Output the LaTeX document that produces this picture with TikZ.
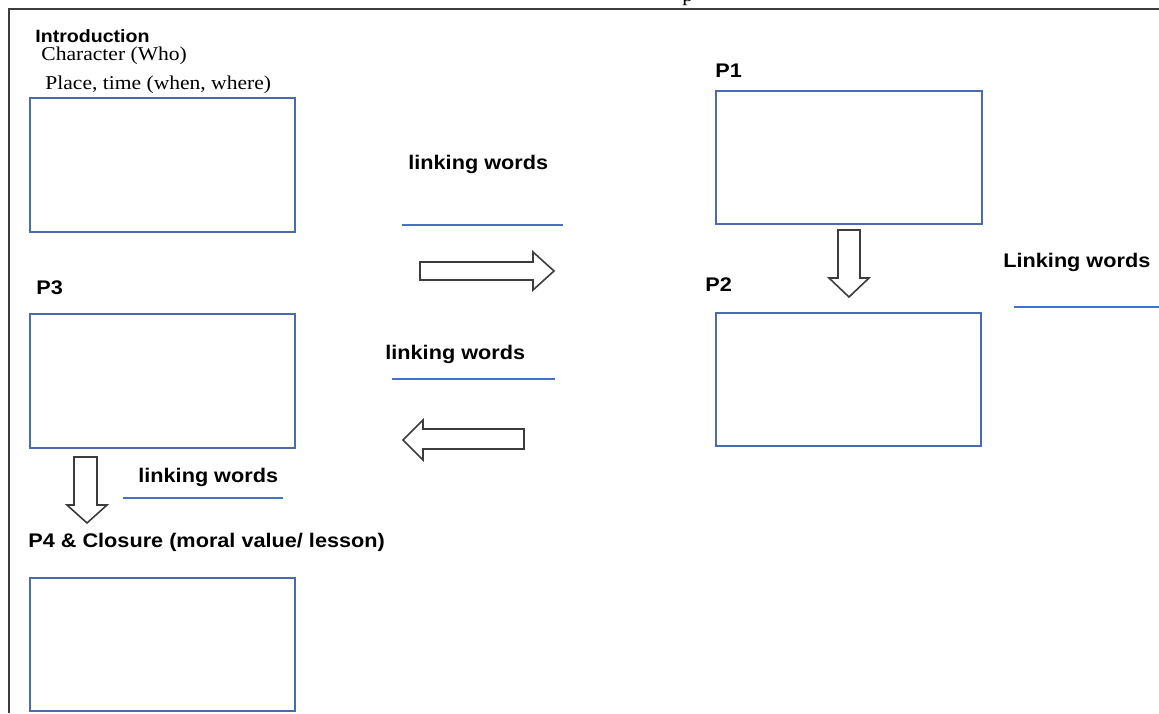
\documentclass[tikz,border=0pt]{standalone}
\usepackage{fontspec}
\newfontfamily\sansf[FakeStretch=1.1]{Liberation Sans}
\newfontfamily\seriff[FakeStretch=1.1]{Liberation Serif}
\definecolor{boxblue}{RGB}{74,108,172}
\definecolor{lineblue}{RGB}{68,114,196}
\definecolor{framegray}{RGB}{60,60,60}
\tikzset{
  lbl/.style={anchor=base west, inner sep=0pt, font=\sansf\bfseries\fontsize{9.85pt}{12pt}\selectfont},
  sub/.style={anchor=base west, inner sep=0pt, font=\seriff\fontsize{9.8pt}{12pt}\selectfont},
  box/.style={draw=boxblue, line width=1pt, anchor=north west, inner sep=0pt, outer sep=0pt, minimum width=132.5pt, minimum height=67pt},
  uline/.style={draw=lineblue, line width=0.8pt},
  barrow/.style={draw=framegray, line width=0.8pt, fill=white, line join=miter},
}
\begin{document}
\begin{tikzpicture}[x=0.5pt,y=-0.5pt]
\useasboundingbox (0,0) rectangle (1159,713);
% frame
\coordinate (ftl) at (9,9);
\coordinate (ftr) at (1159,9);
\coordinate (fbl) at (9,713);
\draw[framegray, line width=0.8pt] (ftr) -- (ftl) -- (fbl);
\node[sub] (ptop) at (682,1) {p};

% introduction
\node[lbl, font=\sansf\bfseries\fontsize{8.9pt}{11pt}\selectfont] (introlbl) at (35,42) {Introduction};
\node[sub] (charlbl) at (41,60) {Character (Who)};
\node[sub] (placelbl) at (45,89) {Place, time (when, where)};
\node[box] (intro) at (30,98) {};

% P3
\node[lbl] (p3lbl) at (36,294) {P3};
\node[box] (p3) at (30,314) {};

% P4
\node[lbl] (p4lbl) at (28,547) {P4 \& Closure (moral value/ lesson)};
\node[box, minimum height=66.5pt] (p4) at (30,578) {};

% P1, P2
\node[lbl] (p1lbl) at (715,77) {P1};
\node[box, minimum width=133pt, minimum height=66.5pt] (p1) at (716,91) {};
\node[lbl] (p2lbl) at (705,291) {P2};
\node[box, minimum width=132.5pt, minimum height=66.5pt] (p2) at (716,313) {};

% linking words
\node[lbl] (lw1) at (408,169) {linking words};
\coordinate (l1a) at (402,225); \coordinate (l1b) at (563,225);
\draw[uline] (l1a) -- (l1b);
\node[lbl] (lw2) at (385,359) {linking words};
\coordinate (l2a) at (392,379); \coordinate (l2b) at (555,379);
\draw[uline] (l2a) -- (l2b);
\node[lbl] (lw3) at (138,482) {linking words};
\coordinate (l3a) at (123,498); \coordinate (l3b) at (283,498);
\draw[uline] (l3a) -- (l3b);
\node[lbl] (lw4) at (1003,267) {Linking words};
\coordinate (l4a) at (1014,307); \coordinate (l4b) at (1159,307);
\draw[uline] (l4a) -- (l4b);

% block arrows
\draw[barrow] (420,262) -- (533,262) -- (533,252) -- (554,271) -- (533,290) -- (533,280) -- (420,280) -- cycle;
\draw[barrow] (524,429) -- (423,429) -- (423,420) -- (403,440) -- (423,460) -- (423,449) -- (524,449) -- cycle;
\draw[barrow] (838,230) -- (860,230) -- (860,278) -- (869,278) -- (849,297) -- (829,278) -- (838,278) -- cycle;
\draw[barrow] (74,457) -- (97,457) -- (97,505) -- (107,505) -- (87,523) -- (67,505) -- (74,505) -- cycle;
\end{tikzpicture}
\end{document}
